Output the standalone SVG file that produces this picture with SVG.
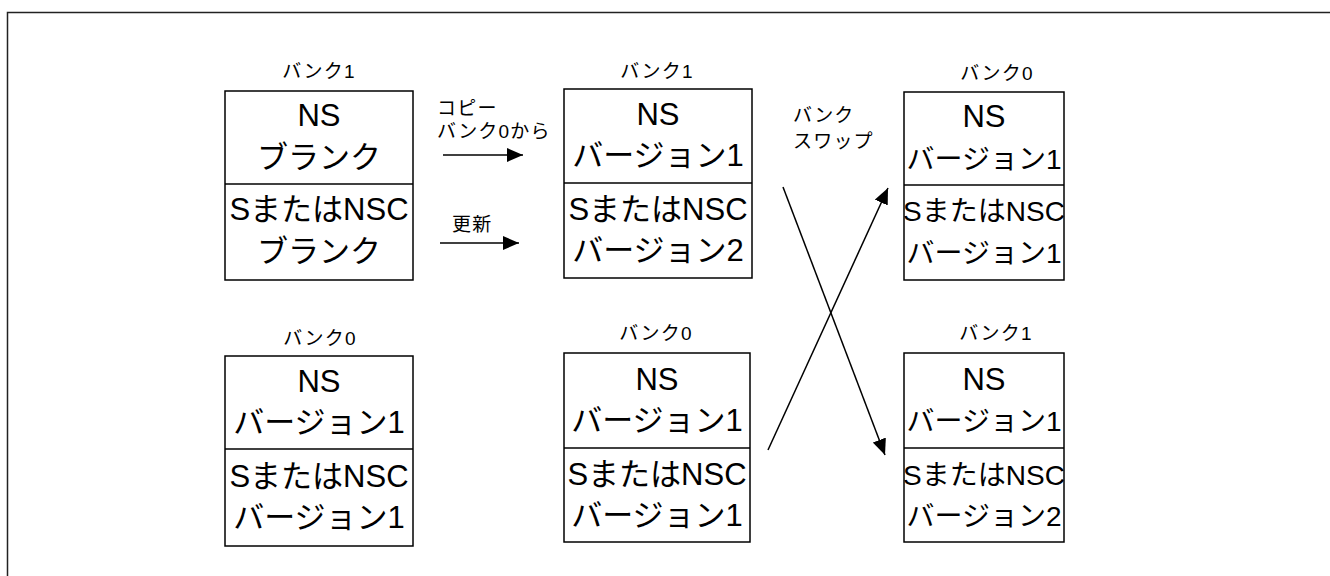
<svg xmlns="http://www.w3.org/2000/svg" width="1330" height="576" viewBox="0 0 1330 576">
<style>
.box{fill:#fff;stroke:#000;stroke-width:1.5}
.big{font-family:"Liberation Sans","Noto Sans CJK JP",sans-serif;font-size:31px;fill:#000;text-anchor:middle}
.nar{font-size:28px}
.sm{font-family:"Liberation Sans","Noto Sans CJK JP",sans-serif;font-size:19px;letter-spacing:1.2px;fill:#000}
.lbl{text-anchor:middle}
.conn{stroke:#000;stroke-width:1.5;fill:none}
</style>
<defs>
<marker id="ah2" viewBox="0 0 16 14" refX="16" refY="7" markerWidth="16" markerHeight="14" markerUnits="userSpaceOnUse" orient="auto">
<path d="M0,0 L16,7 L0,14 Z" fill="#000"/>
</marker>
</defs>
<rect width="1330" height="576" fill="#fff"/>
<path d="M7.5,576 V12.5 H1330" fill="none" stroke="#222" stroke-width="1.5"/>

<g id="n1">
<text class="sm lbl" x="319" y="78">バンク1</text>
<rect class="box" x="225" y="91" width="188" height="189"/>
<line class="box" x1="225" y1="184" x2="413" y2="184"/>
<text class="big" x="319" y="126">NS</text>
<text class="big" x="319" y="168">ブランク</text>
<text class="big" x="319" y="220">SまたはNSC</text>
<text class="big" x="319" y="262">ブランク</text>
</g>

<g id="n2">
<text class="sm lbl" x="657" y="78">バンク1</text>
<rect class="box" x="564" y="89" width="188" height="189"/>
<line class="box" x1="564" y1="183" x2="752" y2="183"/>
<text class="big" x="658" y="125">NS</text>
<text class="big" x="658" y="166">バージョン1</text>
<text class="big" x="658" y="220">SまたはNSC</text>
<text class="big" x="658" y="261">バージョン2</text>
</g>

<g id="n3">
<text class="sm lbl" x="997" y="80">バンク0</text>
<rect class="box" x="904" y="92" width="160" height="188"/>
<line class="box" x1="904" y1="185" x2="1064" y2="185"/>
<text class="big" x="984" y="127">NS</text>
<text class="big nar" x="984" y="169">バージョン1</text>
<text class="big nar" x="984" y="221">SまたはNSC</text>
<text class="big nar" x="984" y="263">バージョン1</text>
</g>

<g id="n4">
<text class="sm lbl" x="320" y="345">バンク0</text>
<rect class="box" x="225" y="356" width="188" height="190"/>
<line class="box" x1="225" y1="449" x2="413" y2="449"/>
<text class="big" x="319" y="392">NS</text>
<text class="big" x="319" y="433">バージョン1</text>
<text class="big" x="319" y="487">SまたはNSC</text>
<text class="big" x="319" y="528">バージョン1</text>
</g>

<g id="n5">
<text class="sm lbl" x="656" y="340">バンク0</text>
<rect class="box" x="564" y="353" width="186" height="189"/>
<line class="box" x1="564" y1="448" x2="750" y2="448"/>
<text class="big" x="657" y="390">NS</text>
<text class="big" x="657" y="431">バージョン1</text>
<text class="big" x="657" y="485">SまたはNSC</text>
<text class="big" x="657" y="526">バージョン1</text>
</g>

<g id="n6">
<text class="sm lbl" x="996" y="340">バンク1</text>
<rect class="box" x="904" y="353" width="160" height="189"/>
<line class="box" x1="904" y1="448" x2="1064" y2="448"/>
<text class="big" x="984" y="390">NS</text>
<text class="big nar" x="984" y="431">バージョン1</text>
<text class="big nar" x="984" y="485">SまたはNSC</text>
<text class="big nar" x="984" y="526">バージョン2</text>
</g>

<g id="connectors">
<line class="conn" x1="443" y1="155" x2="523" y2="155" marker-end="url(#ah2)"/>
<line class="conn" x1="440" y1="243" x2="519" y2="243" marker-end="url(#ah2)"/>
<line class="conn" x1="783" y1="187" x2="885" y2="455" marker-end="url(#ah2)"/>
<line class="conn" x1="768" y1="450" x2="888" y2="188" marker-end="url(#ah2)"/>
<text class="sm" x="437" y="115">コピー</text>
<text class="sm" x="437" y="138">バンク0から</text>
<text class="sm" x="452" y="231">更新</text>
<text class="sm" x="793" y="122">バンク</text>
<text class="sm" x="793" y="148">スワップ</text>
</g>
</svg>
